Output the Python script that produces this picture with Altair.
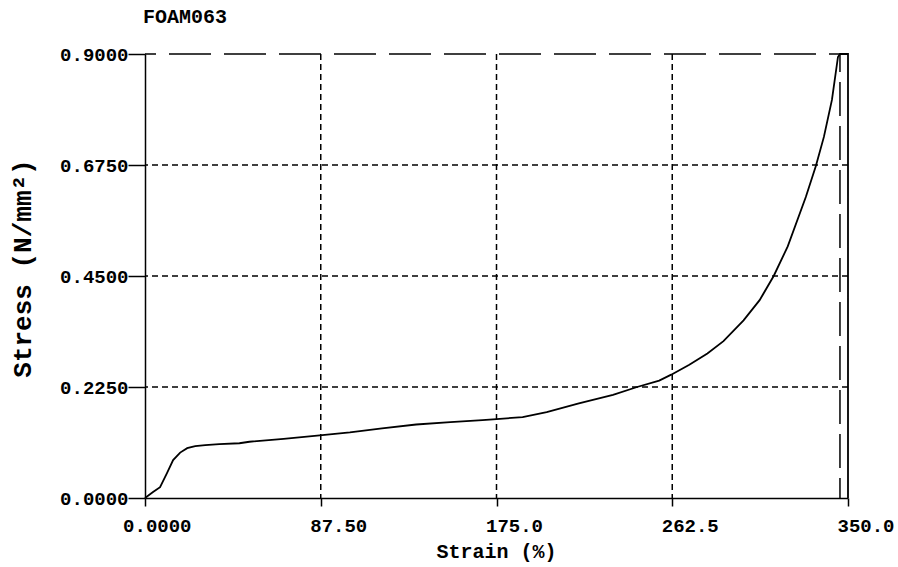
import altair as alt
import pandas as pd

# Stress-strain record for sample FOAM063
strain = [0, 4, 7.5, 11, 14, 17.5, 21, 25, 30, 37, 47, 52, 69, 87, 102, 118, 135,
          152, 168, 175, 188, 200, 216, 233, 245, 256, 262, 271, 280, 288, 298,
          306, 313, 320, 329, 334, 338, 342, 345, 346, 350, 350]
stress = [0.0, 0.012, 0.022, 0.051, 0.077, 0.092, 0.101, 0.105, 0.107, 0.109,
          0.111, 0.114, 0.120, 0.127, 0.133, 0.141, 0.149, 0.154, 0.158, 0.160,
          0.164, 0.174, 0.192, 0.209, 0.225, 0.238, 0.250, 0.270, 0.293, 0.318,
          0.360, 0.401, 0.450, 0.510, 0.610, 0.673, 0.732, 0.807, 0.894, 0.900,
          0.900, 0.0]

x_ticks = [0, 87.5, 175, 262.5, 350]
x_tick_labels = ["0.0000", "87.50", "175.0", "262.5", "350.0"]
y_ticks = [0, 0.225, 0.45, 0.675, 0.9]
x_grid = [87.5, 175, 262.5]
y_grid = [0.225, 0.45, 0.675]
y_max_line = [0.9]
break_strain = [346]

FONT = "Liberation Mono"

curve_df = pd.DataFrame({"strain": strain, "stress": stress,
                         "order": list(range(len(strain)))})

x_scale = alt.Scale(domain=[0, 350], nice=False, zero=False)
y_scale = alt.Scale(domain=[0, 0.9], nice=False, zero=False)

label_expr = "[{}][indexof([{}], datum.value)]".format(
    ",".join("'" + s + "'" for s in x_tick_labels),
    ",".join(str(v) for v in x_ticks),
)

# One axis definition per channel, shared by every layer so they merge cleanly
x_axis = alt.Axis(values=x_ticks, labelExpr=label_expr, grid=False,
                  title="Strain (%)", labelAlign="right", labelOffset=46,
                  labelBaseline="top", labelPadding=10, tickSize=8,
                  titleX=351, titleY=59, titleBaseline="alphabetic",
                  titleAlign="center", titleFontSize=20)
y_axis = alt.Axis(values=y_ticks, format=".4f", grid=False,
                  title="Stress (N/mm²)", tickSize=17, labelPadding=0,
                  labelBaseline="middle", titleX=-123, titleY=214,
                  titleAngle=270, titleBaseline="middle",
                  titleAlign="center", titleFontSize=26)

grid_v = alt.Chart(pd.DataFrame({"strain": x_grid})).mark_rule(
    color="black", strokeWidth=1.5, strokeDash=[6, 4]
).encode(x=alt.X("strain:Q", scale=x_scale, axis=x_axis))

grid_h = alt.Chart(pd.DataFrame({"stress": y_grid})).mark_rule(
    color="black", strokeWidth=1.5, strokeDash=[6, 4]
).encode(y=alt.Y("stress:Q", scale=y_scale, axis=y_axis))

top_line = alt.Chart(pd.DataFrame({"stress": y_max_line})).mark_rule(
    color="black", strokeWidth=1.5, strokeDash=[42, 13], strokeDashOffset=23
).encode(y=alt.Y("stress:Q", scale=y_scale, axis=y_axis))

break_line = alt.Chart(pd.DataFrame({"strain": break_strain})).mark_rule(
    color="black", strokeWidth=1.5, strokeDash=[34, 10], strokeDashOffset=16
).encode(x=alt.X("strain:Q", scale=x_scale, axis=x_axis))

curve = alt.Chart(curve_df).mark_line(
    color="black", strokeWidth=1.8, interpolate="linear"
).encode(
    x=alt.X("strain:Q", scale=x_scale, axis=x_axis),
    y=alt.Y("stress:Q", scale=y_scale, axis=y_axis),
    order="order:Q",
)

chart = alt.layer(grid_v, grid_h, top_line, break_line, curve).properties(
    width=703,
    height=444,
    background="white",
    autosize=alt.AutoSizeParams(type="none"),
    padding={"left": 145, "top": 54, "right": 50, "bottom": 69},
    title=alt.TitleParams("FOAM063", anchor="start", frame="group", font=FONT,
                          fontSize=20, fontWeight="bold", color="black",
                          dx=-2, offset=18),
).configure_view(stroke=None).configure_axis(
    domainColor="black", domainWidth=1.5, tickColor="black", tickWidth=1.5,
    labelFont=FONT, labelFontSize=19, labelFontWeight="bold", labelColor="black",
    titleFont=FONT, titleFontWeight="bold", titleColor="black",
    labelOverlap=False, labelFlush=False,
)

chart.save("out.html", embed_options={"renderer": "svg", "actions": False})
